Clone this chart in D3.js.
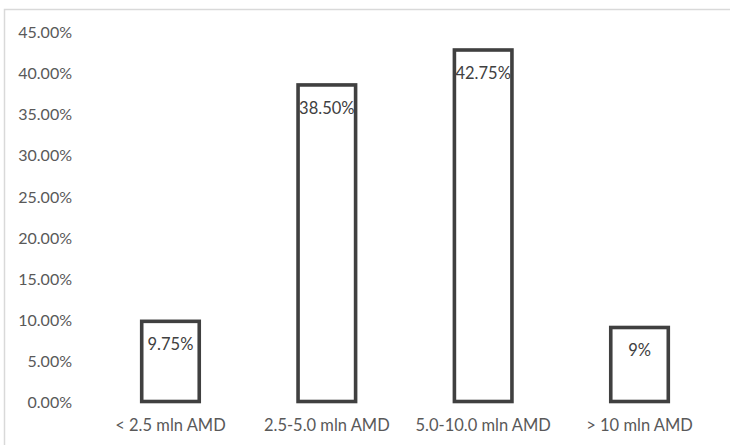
<!DOCTYPE html>
<html>
<head>
<meta charset="utf-8">
<script src="https://cdn.jsdelivr.net/npm/d3@7"></script>
<style>
  html, body { margin: 0; padding: 0; background: #fff; }
  svg { display: block; }
</style>
</head>
<body>
<svg id="chart" width="730" height="445"></svg>
<script>
// Share of respondents by income band
const categories = ["< 2.5 mln AMD", "2.5-5.0 mln AMD", "5.0-10.0 mln AMD", "> 10 mln AMD"];
const shares = [0.0975, 0.385, 0.4275, 0.09];
const valueLabels = ["9.75%", "38.50%", "42.75%", "9%"];
const tickValues = [0, 0.05, 0.10, 0.15, 0.20, 0.25, 0.30, 0.35, 0.40, 0.45];

const svg = d3.select("#chart");
const font = "Lato, 'Open Sans', sans-serif";

// outer chart frame (light gray)
svg.append("rect")
  .attr("x", 4.5).attr("y", 9.5)
  .attr("width", 760).attr("height", 460)
  .attr("fill", "none")
  .attr("stroke", "#d9d9d9")
  .attr("stroke-width", 1.5);

const x = d3.scaleBand()
  .domain(categories)
  .range([92.3, 717.7])
  .paddingInner(0.632)
  .paddingOuter(0.316);

const y = d3.scaleLinear()
  .domain([0, 0.45])
  .range([401.5, 31.5]);

// y axis labels only (no line, no gridlines)
const yAxis = d3.axisLeft(y)
  .tickValues(tickValues)
  .tickFormat(d3.format(".2%"))
  .tickSize(0)
  .tickPadding(0);

const yg = svg.append("g")
  .attr("transform", "translate(72,1)")
  .call(yAxis);
yg.select(".domain").remove();
yg.selectAll("text")
  .attr("fill", "#595959")
  .style("font-family", font)
  .style("font-size", "16px");

// x axis category labels
const xAxis = d3.axisBottom(x).tickSize(0).tickPadding(0);
const xg = svg.append("g")
  .attr("transform", "translate(0,419.5)")
  .call(xAxis);
xg.select(".domain").remove();
xg.selectAll("text")
  .attr("fill", "#595959")
  .style("font-family", font)
  .style("font-size", "16.5px");

// outlined bars
svg.append("g").selectAll("rect")
  .data(shares)
  .join("rect")
  .attr("x", (d, i) => x(categories[i]))
  .attr("y", d => y(d))
  .attr("width", x.bandwidth())
  .attr("height", d => y(0) - y(d))
  .attr("fill", "#fff")
  .attr("stroke", "#404040")
  .attr("stroke-width", 3.6);

// value labels inside the top of each bar
svg.append("g").selectAll("text")
  .data(shares)
  .join("text")
  .attr("x", (d, i) => x(categories[i]) + x.bandwidth() / 2)
  .attr("y", d => y(d) + 23)
  .attr("dy", "0.35em")
  .attr("text-anchor", "middle")
  .attr("fill", "#404040")
  .style("font-family", font)
  .style("font-size", "16.5px")
  .text((d, i) => valueLabels[i]);
</script>
</body>
</html>
